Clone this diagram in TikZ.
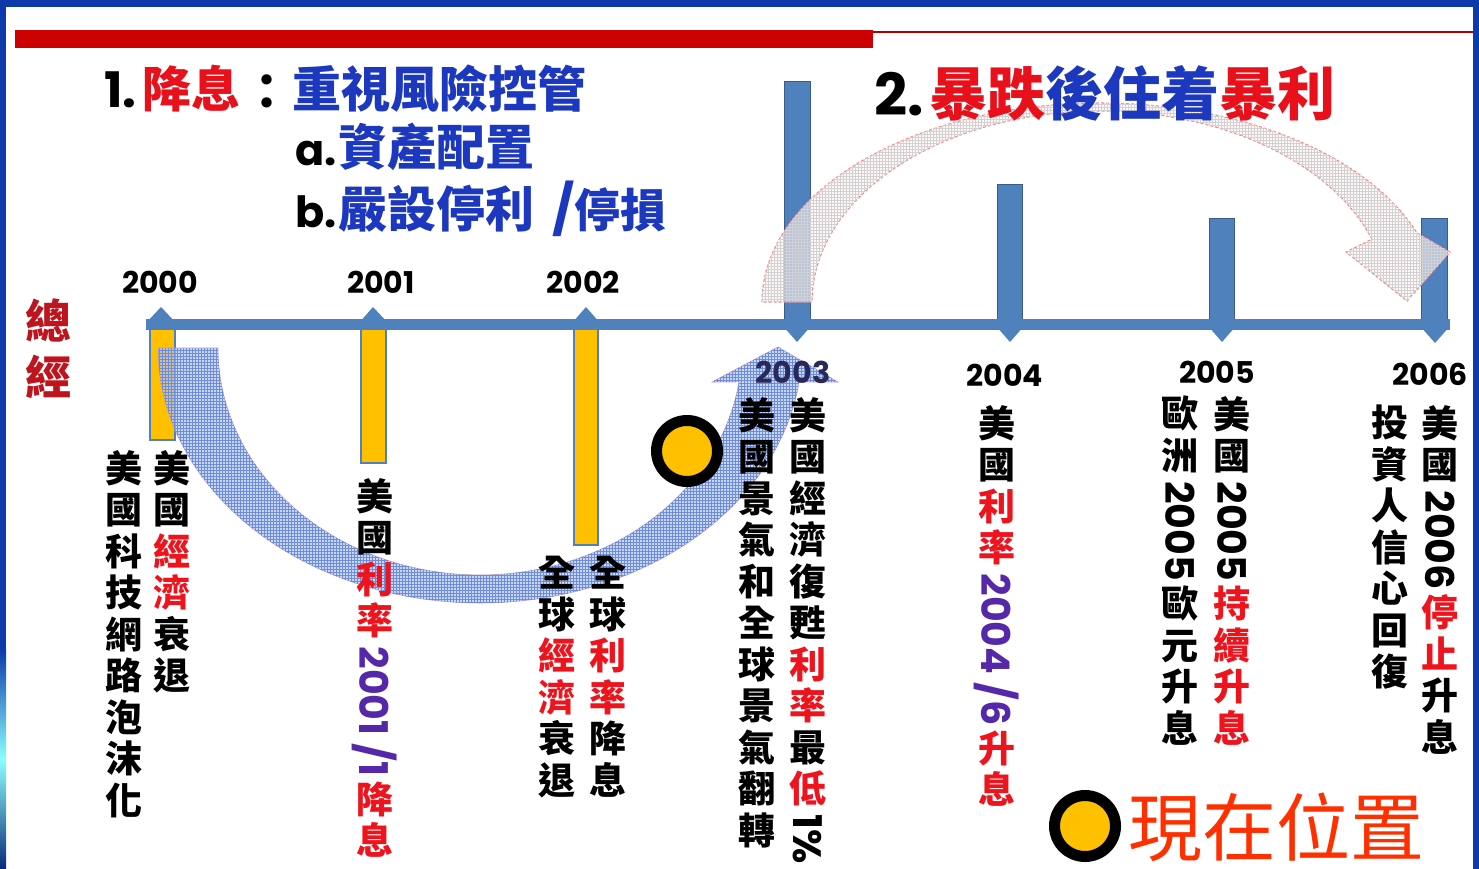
\documentclass[tikz,border=0pt]{standalone}
\usepackage{fontspec}
\usepackage{graphicx}
\newfontfamily\cjk{Noto Sans CJK TC}
\newfontfamily\geo{Poppins}
\usetikzlibrary{patterns}
\definecolor{frameblue}{RGB}{12,58,170}
\definecolor{barred}{RGB}{204,0,0}
\definecolor{tred}{RGB}{232,16,26}
\definecolor{tblue}{RGB}{28,56,190}
\definecolor{zjred}{RGB}{190,20,30}
\definecolor{lineblue}{RGB}{79,129,189}
\definecolor{lineedge}{RGB}{56,93,138}
\definecolor{ybar}{RGB}{255,192,0}
\definecolor{cred}{RGB}{238,20,30}
\definecolor{cpurp}{RGB}{85,40,170}
\definecolor{posred}{RGB}{255,48,0}
\definecolor{arrblue}{RGB}{176,196,240}
\definecolor{arrgrid}{RGB}{110,140,220}
\definecolor{navy}{RGB}{40,40,90}
\newcommand\cR[1]{\textcolor{cred}{#1}}
\newcommand\rotd[2][black]{\raisebox{0.8em}{\rotatebox{-90}{\geo\bfseries\fontsize{39.5}{39.5}\selectfont\color{#1}#2}}}
\setlength{\lineskip}{5pt}
\begin{document}
\begin{tikzpicture}[x=1pt,y=-1pt,
  vcol/.style={anchor=north, align=center, inner sep=0pt,
    font=\cjk\bfseries\fontsize{37}{41.5}\selectfont},
  yr/.style={inner sep=0pt, font=\geo\bfseries\fontsize{30}{30}\selectfont},
  ttl/.style={anchor=base west, inner sep=0pt, font=\cjk\bfseries\fontsize{49}{49}\selectfont},
  ttlgeo/.style={anchor=base west, inner sep=0pt, font=\geo\bfseries\fontsize{49}{49}\selectfont},
  ttlab/.style={anchor=base west, inner sep=0pt, font=\geo\bfseries\fontsize{43}{43}\selectfont},
  ybarsty/.style={fill=ybar, draw=lineblue, line width=1.5pt},
  bbarsty/.style={fill=lineblue, draw=lineedge, line width=1pt},
  tri/.style={fill=lineblue},
  curpos/.style={circle, fill=ybar, draw=black, line width=11pt, minimum size=61pt, inner sep=0pt},
  redarr/.style={fill=red!5, fill opacity=0.6, draw=red!50, dash pattern=on 3pt off 2pt, line width=1.1pt,
    postaction={pattern=grid, pattern color=gray!35, fill opacity=0.35}},
  bluearr/.style={fill=arrblue, fill opacity=0.65, draw=arrblue!80!red, line width=0.6pt,
    postaction={pattern=grid, pattern color=arrgrid, fill opacity=0.55}}
]
\useasboundingbox (0,0) rectangle (1479,869);
\fill[white] (0,0) rectangle (1479,869);
% frame
\fill[frameblue] (0,0) rectangle (1479,7);
\fill[frameblue] (0,0) rectangle (6,869);
\fill[frameblue] (1473,0) rectangle (1479,869);
\shade[top color=frameblue, bottom color=frameblue!70!black, middle color=cyan!45!white] (0,650) rectangle (6,869);
% red header bar
\fill[barred] (15,30) rectangle (873,48);
\draw[barred!85!black, line width=1.8pt] (873,32) -- (1473,32);

% yellow bars (2000-2002)
\draw[ybarsty] (150,326) rectangle (175,440);
\draw[ybarsty] (361,326) rectangle (386,463);
\draw[ybarsty] (574,326) rectangle (598,545);
% blue bars (2003-2006)
\draw[bbarsty] (784,82) rectangle (810,328);
\draw[bbarsty] (997,185) rectangle (1022,328);
\draw[bbarsty] (1209,218) rectangle (1234,328);
\draw[bbarsty] (1421,218) rectangle (1447,328);
% timeline
\fill[lineblue] (146,318.5) rectangle (1450,329.5);
\fill[tri] (146,323) -- (161,307) -- (176,323) -- cycle;
\fill[tri] (359,323) -- (373,307) -- (388,323) -- cycle;
\fill[tri] (572,323) -- (586,307) -- (600,323) -- cycle;
\fill[tri] (783,326) -- (797,342) -- (811,326) -- cycle;
\fill[tri] (996,326) -- (1010,342) -- (1024,326) -- cycle;
\fill[tri] (1208,326) -- (1222,342) -- (1236,326) -- cycle;
\fill[tri] (1420,326) -- (1435,343) -- (1450,326) -- cycle;

% blue curved arrow 2000 -> 2003
\path[bluearr] plot[domain=180:7.66, samples=70] ({480+322*cos(\x)},{348+255*sin(\x)})
  -- (838,382) -- (778,347) -- (712,382)
  -- plot[domain=8.6:180, samples=70] ({480+262*cos(\x)},{348+227*sin(\x)}) -- cycle;
% red curved arrow 2003 -> 2006
\path[redarr] plot[domain=180:20.3, samples=70] ({1100+338*cos(\x)},{302-199*sin(\x)})
  -- (1450,252) -- (1407,301) -- (1346,252)
  -- plot[domain=19.2:180, samples=70] ({1100+288*cos(\x)},{302-191*sin(\x)}) -- cycle;

% titles
\node[ttlgeo] (t1n) at (104,108) {1.};
\node[ttl, text=tred] (t1a) at (142,108) {降息};
\node[inner sep=0pt, font=\cjk\bfseries\fontsize{49}{49}\selectfont] (t1c) at (267,92) {：};
\node[ttl, text=tblue] (t1b) at (292,108) {重視風險控管};
\node[ttlab] (t2n) at (295,166) {a.};
\node[ttl, text=tblue] (t2b) at (338,166) {資產配置};
\node[ttlab] (t3n) at (295,227) {b.};
\node[ttl, text=tblue] (t3b) at (338,227) {嚴設停利};
\node[ttlgeo, text=tblue] (t3c) at (552,227) {/};
\node[ttl, text=tblue, font=\cjk\bfseries\fontsize{46}{46}\selectfont] (t3d) at (574,227) {停損};
\node[anchor=base west, inner sep=0pt, font=\geo\bfseries\fontsize{58}{58}\selectfont] (t4n) at (874,116) {2.};
\node[anchor=base west, inner sep=0pt, font=\cjk\bfseries\fontsize{58}{58}\selectfont] (t4b) at (929,116)
  {\textcolor{tred}{暴跌}\textcolor{tblue}{後住着}\textcolor{tred}{暴利}};
% 總經
\node[anchor=north, align=center, inner sep=0pt, text=zjred, font=\cjk\bfseries\fontsize{46}{56}\selectfont] (zj) at (48,299) {總\\經};

% years
\node[yr] (y2000) at (160,282) {2000};
\node[yr] (y2001) at (381,282) {2001};
\node[yr] (y2002) at (583,282) {2002};
\node[yr, text=navy] (y2003) at (793,372) {2003};
\node[yr] (y2004) at (1005,375) {2004};
\node[yr] (y2005) at (1217,372) {2005};
\node[yr] (y2006) at (1430,374) {2006};

% vertical columns
\node[vcol] (c2000R) at (172,450) {美\\國\\\cR{經}\\\cR{濟}\\衰\\退};
\node[vcol] (c2000L) at (124,450) {美\\國\\科\\技\\網\\路\\泡\\沫\\化};
\node[vcol] (c2001) at (375,478) {美\\國\\\cR{利}\\\cR{率}\\\rotd[cpurp]{2001 /1}\\\cR{降}\\\cR{息}};
\node[vcol] (c2002R) at (608,556) {全\\球\\\cR{利}\\\cR{率}\\降\\息};
\node[vcol] (c2002L) at (557,556) {全\\球\\\cR{經}\\\cR{濟}\\衰\\退};
\node[vcol] (c2003R) at (808,397) {美\\國\\經\\濟\\復\\甦\\\cR{利}\\\cR{率}\\最\\\cR{低}\\\rotd{1\%}};
\node[vcol] (c2003L) at (757,397) {美\\國\\景\\氣\\和\\全\\球\\景\\氣\\翻\\轉};
\node[vcol] (c2004) at (997,405) {美\\國\\\cR{利}\\\cR{率}\\\rotd[cpurp]{2004 /6}\\\cR{升}\\\cR{息}};
\node[vcol] (c2005R) at (1232,396) {美\\國\\\rotd{2005}\\\cR{持}\\\cR{續}\\\cR{升}\\\cR{息}};
\node[vcol] (c2005L) at (1180,396) {歐\\洲\\\rotd{2005}\\歐\\元\\升\\息};
\node[vcol] (c2006R) at (1440,405) {美\\國\\\rotd{2006}\\\cR{停}\\\cR{止}\\升\\息};
\node[vcol] (c2006L) at (1390,405) {投\\資\\人\\信\\心\\回\\復};

% current position markers
\node[curpos] (pos1) at (687,451) {};
\node[curpos] (pos2) at (1085,826) {};
\node[anchor=base west, inner sep=0pt, text=posred, font=\cjk\fontsize{74}{74}\selectfont] (posl) at (1128,855) {現在位置};
\end{tikzpicture}
\end{document}
